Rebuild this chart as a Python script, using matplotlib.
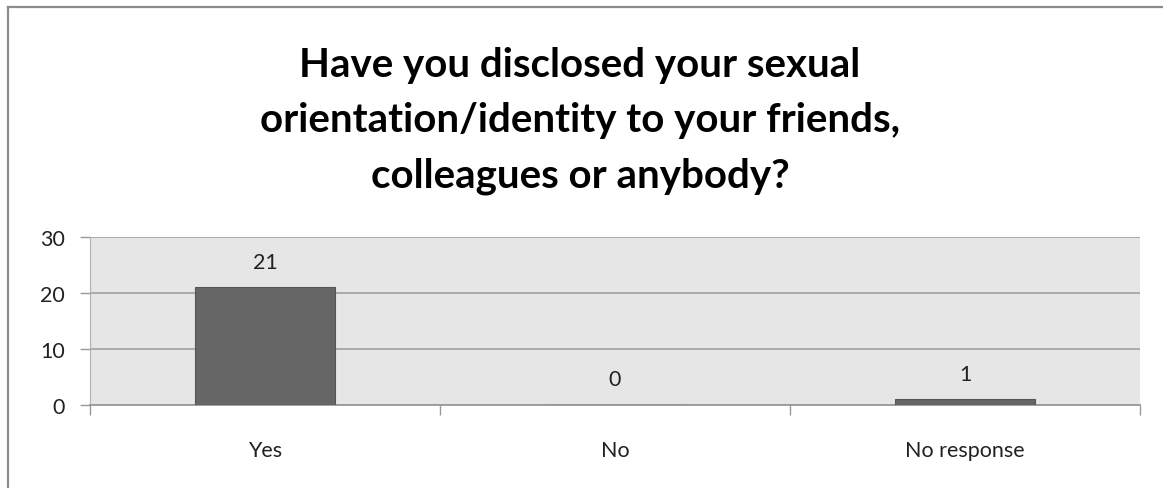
import matplotlib.pyplot as plt
from matplotlib.lines import Line2D
from matplotlib.ticker import FixedLocator

categories = ["Yes", "No", "No response"]
counts = [21, 0, 1]
title = ("Have you disclosed your sexual\n"
         "orientation/identity to your friends,\n"
         "colleagues or anybody?")
yticks = [0, 10, 20, 30]


def main():
    plt.rcParams["font.family"] = ["Lato", "DejaVu Sans"]
    W, H = 1163, 489
    fig = plt.figure(figsize=(W / 100, H / 100), dpi=100)

    # outer chart frame (only left/top edges fall inside the image)
    fig.add_artist(Line2D([8 / W, 8 / W], [0, 1 - 8 / H], transform=fig.transFigure,
                          color="#8c8c8c", lw=1.6))
    fig.add_artist(Line2D([8 / W, 1], [1 - 8 / H, 1 - 8 / H], transform=fig.transFigure,
                          color="#8c8c8c", lw=1.6))

    fig.text(580 / W, 1 - 121 / H, title, ha="center", va="center",
             fontsize=29, fontweight="bold", linespacing=1.62, color="black")

    ax = fig.add_axes([90 / W, 1 - 406 / H, (1140 - 90) / W, (406 - 238) / H])
    ax.set_facecolor("#e6e6e6")

    x = list(range(len(categories)))
    ax.bar(x, counts, width=0.4, color="#666666", edgecolor="#555555",
           linewidth=0.8, zorder=3)
    for xi, v in zip(x, counts):
        ax.annotate(str(v), (xi, v), xytext=(0, 18.5), textcoords="offset points",
                    ha="center", va="center", fontsize=15.5, color="#222222")

    ax.set_xlim(-0.5, len(categories) - 0.5)
    ax.set_ylim(0, 30)
    ax.set_yticks(yticks)
    ax.set_xticks(x)
    ax.set_xticklabels(categories)
    ax.xaxis.set_minor_locator(FixedLocator([i - 0.5 for i in range(len(categories) + 1)]))
    ax.tick_params(axis="x", which="major", length=0, pad=25.5, labelsize=15.5,
                   labelcolor="#222222")
    ax.tick_params(axis="x", which="minor", length=7, width=1, color="#999999",
                   direction="out")
    ax.tick_params(axis="y", length=7, width=1, color="#999999", pad=11,
                   labelsize=15.5, labelcolor="#222222")

    ax.yaxis.grid(True, color="#a6a6a6", lw=1.3, zorder=0)
    ax.set_axisbelow(True)
    for side in ("top", "right"):
        ax.spines[side].set_visible(False)
    ax.spines["left"].set_color("#b0b0b0")
    ax.spines["bottom"].set_color("#999999")
    ax.spines["bottom"].set_linewidth(1.3)

    fig.savefig("out.png", dpi=100)


if __name__ == "__main__":
    main()
